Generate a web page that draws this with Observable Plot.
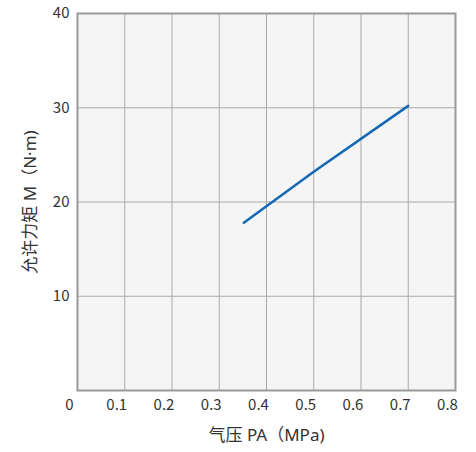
<!DOCTYPE html>
<html><head><meta charset="utf-8">
<script src="https://cdn.jsdelivr.net/npm/d3@7"></script>
<script src="https://cdn.jsdelivr.net/npm/@observablehq/plot@0.6"></script>
<style>
body{margin:0;background:#fff;}
svg{font-family:"Noto Sans CJK SC","Noto Sans",sans-serif;}
</style>
</head><body>
<div id="chart"></div>
<script>
const pressure = [0.352, 0.5, 0.70];
const moment = [17.8, 23.2, 30.2];
const xTicks = [0, 0.1, 0.2, 0.3, 0.4, 0.5, 0.6, 0.7, 0.8];
const yTicks = [10, 20, 30, 40];
const xLabel = "气压 PA（MPa)";
const yLabel = "允许力矩 M（N·m)";

const data = pressure.map((p, i) => ({p, m: moment[i]}));
const labelFont = "'Noto Sans','Noto Sans CJK SC',sans-serif";

const chart = Plot.plot({
  width: 476, height: 452,
  marginLeft: 77, marginRight: 21, marginTop: 13, marginBottom: 62,
  style: {background: "#fff", fontSize: "15px", color: "#333"},
  x: {domain: [0, 0.8]},
  y: {domain: [0, 40]},
  marks: [
    Plot.frame({fill: "#f5f5f5", stroke: null}),
    Plot.ruleX(xTicks.filter(d => d > 0 && d < 0.8), {stroke: "#aaa", strokeWidth: 1}),
    Plot.ruleY(yTicks.filter(d => d < 40), {stroke: "#aaa", strokeWidth: 1}),
    Plot.frame({stroke: "#999", strokeWidth: 2}),
    Plot.axisX({ticks: xTicks, tickSize: 0, tickPadding: 9, dx: -8, label: null, tickFormat: d => d === 0 ? "0" : d3.format(".1f")(d), fill: "#333"}),
    Plot.axisY({ticks: yTicks, tickSize: 0, tickPadding: 8, label: null, fill: "#333"}),
    Plot.line(data, {x: "p", y: "m", stroke: "#1468b4", strokeWidth: 2.5}),
    Plot.text([xLabel], {frameAnchor: "bottom", dy: 50, text: d => d, fontSize: 17, fill: "#333", fontFamily: labelFont}),
    Plot.text([yLabel], {frameAnchor: "left", textAnchor: "middle", dx: -47, rotate: -90, text: d => d, fontSize: 17, fill: "#333", fontFamily: labelFont})
  ]
});
document.getElementById("chart").appendChild(chart);
</script>
</body></html>
